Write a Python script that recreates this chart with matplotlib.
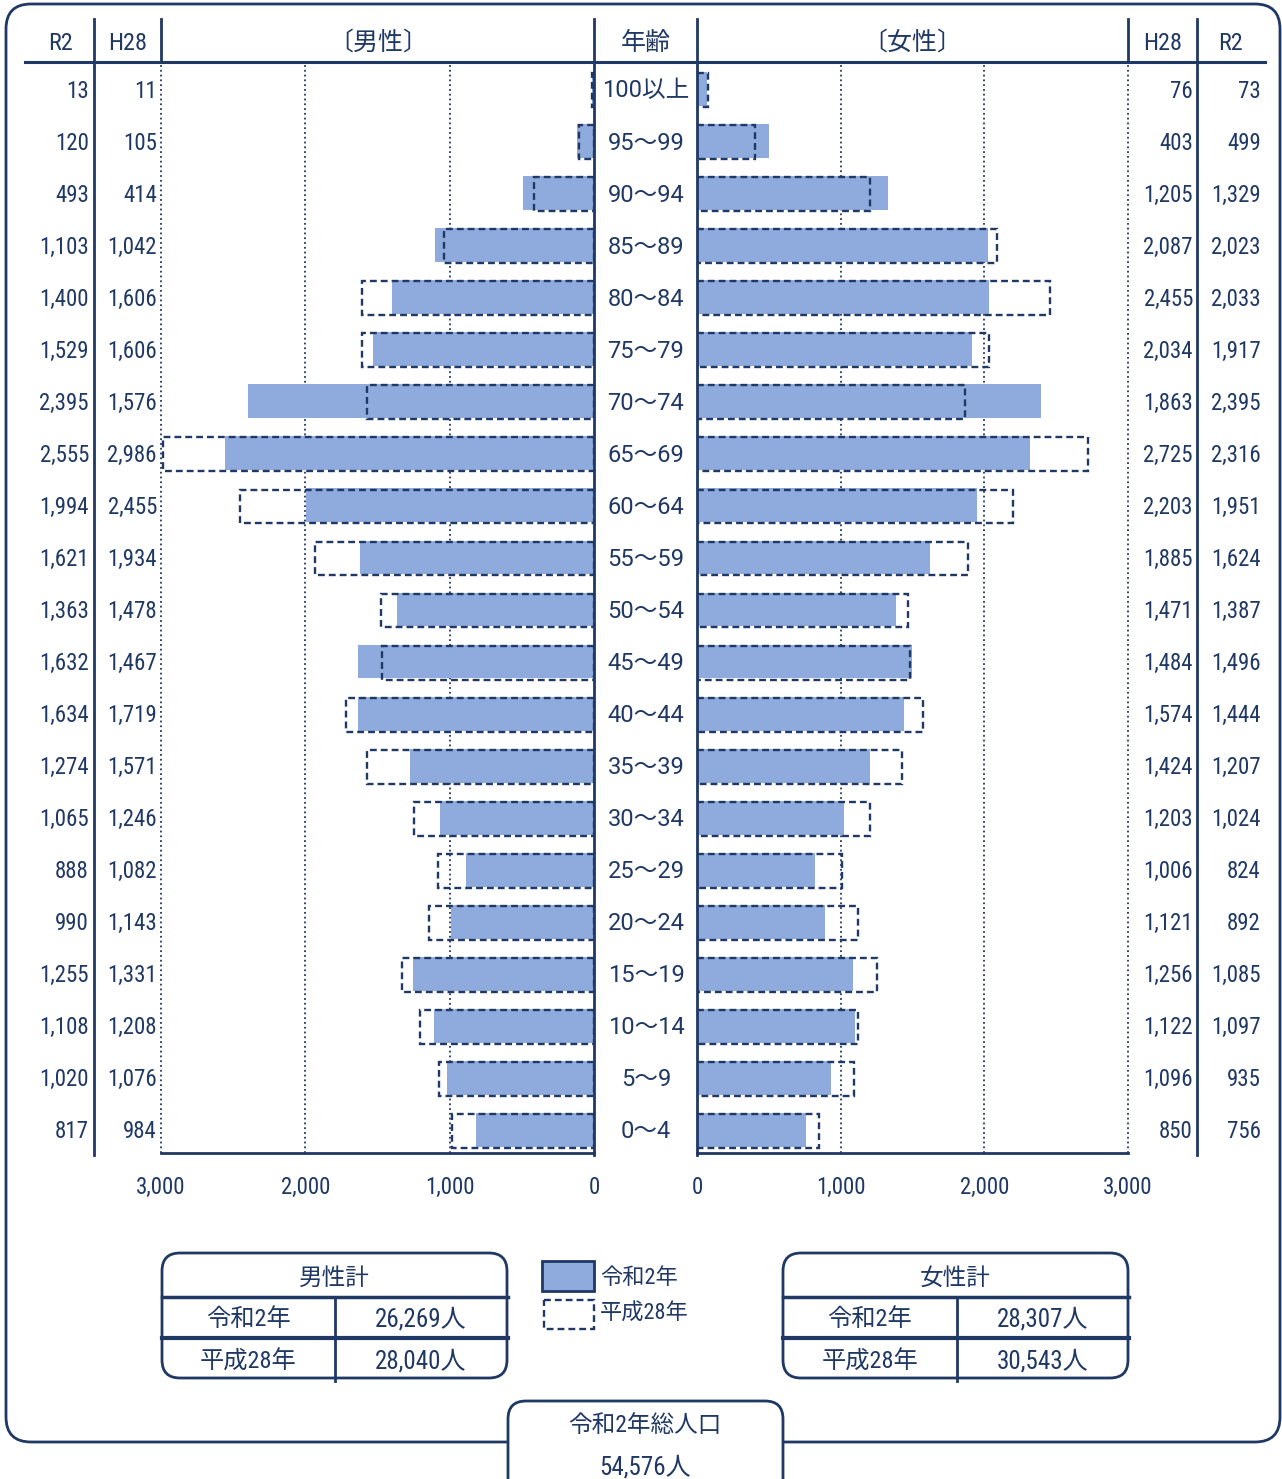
import matplotlib
matplotlib.use("Agg")
import numpy as np
import matplotlib.pyplot as plt
from matplotlib import transforms
from matplotlib.patches import FancyBboxPatch, Rectangle
from matplotlib.lines import Line2D

# ---- data -------------------------------------------------------------
ages = ["100以上", "95～99", "90～94", "85～89", "80～84", "75～79", "70～74",
        "65～69", "60～64", "55～59", "50～54", "45～49", "40～44", "35～39",
        "30～34", "25～29", "20～24", "15～19", "10～14", "5～9", "0～4"]
male_r2 = [13, 120, 493, 1103, 1400, 1529, 2395, 2555, 1994, 1621, 1363,
           1632, 1634, 1274, 1065, 888, 990, 1255, 1108, 1020, 817]
male_h28 = [11, 105, 414, 1042, 1606, 1606, 1576, 2986, 2455, 1934, 1478,
            1467, 1719, 1571, 1246, 1082, 1143, 1331, 1208, 1076, 984]
female_h28 = [76, 403, 1205, 2087, 2455, 2034, 1863, 2725, 2203, 1885, 1471,
              1484, 1574, 1424, 1203, 1006, 1121, 1256, 1122, 1096, 850]
female_r2 = [73, 499, 1329, 2023, 2033, 1917, 2395, 2316, 1951, 1624, 1387,
             1496, 1444, 1207, 1024, 824, 892, 1085, 1097, 935, 756]
x_ticks = [0, 1000, 2000, 3000]

male_totals = [("令和2年", "26,269人"), ("平成28年", "28,040人")]
female_totals = [("令和2年", "28,307人"), ("平成28年", "30,543人")]
grand_total = ("令和2年総人口", "54,576人")
legend_labels = ["令和2年", "平成28年"]

# ---- style ------------------------------------------------------------
W, H = 1282, 1479
NAVY = "#1f3864"
BLUE = "#8faadc"
NUM = ["Roboto Condensed", "Noto Sans CJK JP", "DejaVu Sans"]
AGE = ["Roboto", "Noto Sans CJK JP", "DejaVu Sans"]
JP = ["Noto Sans CJK JP", "DejaVu Sans"]
DASH = (0, (2.9, 1.7))

fig = plt.figure(figsize=(W / 100, H / 100), dpi=100)
fig.patch.set_facecolor("white")
# pixel coordinates with origin at top-left
PX = transforms.Affine2D().scale(1 / W, -1 / H).translate(0, 1) + fig.transFigure
# same, nudged 2 px downward so glyphs sit optically centred
PXT = transforms.Affine2D().translate(0, 2) + PX


def box(x0, x1, y0, y1):
    return [x0 / W, 1 - y1 / H, (x1 - x0) / W, (y1 - y0) / H]


def hline(y, x0, x1, lw=2, **kw):
    fig.add_artist(Line2D([x0, x1], [y, y], transform=PX, color=NAVY, lw=lw, **kw))


def vline(x, y0, y1, lw=2, **kw):
    fig.add_artist(Line2D([x, x], [y0, y1], transform=PX, color=NAVY, lw=lw, **kw))


def label(x, y, s, size, family, ha="center", transform=PXT, **kw):
    fig.text(x, y, s, transform=transform, ha=ha, va="center", fontsize=size,
             color=NAVY, family=family, **kw)


rows = np.arange(len(ages))
row0, step = 89.0, 52.05
y_top = (62 - row0) / step
y_bot = (1153 - row0) / step

ax_m = fig.add_axes(box(161, 594, 62, 1153))
ax_f = fig.add_axes(box(697, 1128, 62, 1153))

for ax, r2, h28, xlim in ((ax_m, male_r2, male_h28, (3000, 0)),
                          (ax_f, female_r2, female_h28, (0, 3000))):
    ax.set_xlim(*xlim)
    ax.set_ylim(y_bot, y_top)
    ax.barh(rows, r2, height=0.65, color=BLUE, zorder=2)
    ax.barh(rows + 0.02, h28, height=0.65, fill=False, edgecolor=NAVY,
            linestyle=DASH, linewidth=1.7, zorder=3)
    for v in (1000, 2000, 3000):
        ax.axvline(v, color=NAVY, lw=1.3, ls=":", zorder=1, clip_on=False)
    for s in ("top", "left", "right"):
        ax.spines[s].set_visible(False)
    ax.spines["bottom"].set_color(NAVY)
    ax.spines["bottom"].set_linewidth(2)
    ax.set_yticks([])
    ax.set_xticks(x_ticks)
    ax.set_xticklabels([f"{v:,}" for v in x_ticks])
    ax.tick_params(axis="x", length=0, pad=16.5, labelsize=16.5, labelcolor=NAVY)
    for lab in ax.get_xticklabels():
        lab.set_fontfamily(NUM)

# ---- frame and column rules --------------------------------------------
fig.add_artist(FancyBboxPatch((6, 4), 1274, 1438,
                              boxstyle="round,pad=0,rounding_size=25",
                              transform=PX, fill=False, ec=NAVY, lw=2))
hline(62, 25, 1265, lw=2.2)
for x in (94, 1197, 594, 697):
    vline(x, 19, 1155)
for x in (161, 1128):
    vline(x, 19, 62)

# ---- header -------------------------------------------------------------
for x, s in ((60, "R2"), (128, "H28"), (1163, "H28"), (1230, "R2")):
    label(x, 42, s, 17.5, NUM)
for x, s in ((378, "〔男性〕"), (646, "年齢"), (912, "〔女性〕")):
    label(x, 41, s, 18, JP)

# ---- row labels ---------------------------------------------------------
ty = transforms.blended_transform_factory(PX, ax_m.transData)
tyt = transforms.Affine2D().translate(0, 2 / step) + ty
for i in rows:
    label(646, i, ages[i], 17, AGE, transform=tyt)
    for x, vals in ((89, male_r2), (157, male_h28), (1193, female_h28),
                    (1261, female_r2)):
        label(x, i, f"{vals[i]:,}", 16.5, NUM, ha="right", transform=tyt)


# ---- totals tables ------------------------------------------------------
def totals_table(x0, x1, xdiv, title, entries):
    fig.add_artist(FancyBboxPatch((x0, 1253), x1 - x0, 125,
                                  boxstyle="round,pad=0,rounding_size=18",
                                  transform=PX, fill=False, ec=NAVY, lw=2))
    hline(1297, x0, x1 + 1, lw=2.5)
    hline(1338, x0, x1 + 1, lw=3)
    vline(xdiv, 1297, 1381, lw=2)
    label((x0 + x1) / 2, 1276, title, 17, JP)
    for (lab, val), y in zip(entries, (1318, 1360)):
        label((x0 + xdiv) / 2, y, lab, 17.5, NUM)
        label((xdiv + x1) / 2, y, val, 18, NUM)


totals_table(162, 507, 335, "男性計", male_totals)
totals_table(783, 1128, 957, "女性計", female_totals)

# ---- legend -------------------------------------------------------------
fig.add_artist(Rectangle((542, 1261), 52, 30, transform=PX, fc=BLUE,
                         ec=NAVY, lw=2))
fig.add_artist(Rectangle((544, 1300), 50, 29, transform=PX, fill=False,
                         ec=NAVY, lw=1.7, ls=DASH))
label(600, 1276, legend_labels[0], 16, NUM, ha="left")
label(600, 1312, legend_labels[1], 16, NUM, ha="left")

# ---- grand total --------------------------------------------------------
fig.add_artist(FancyBboxPatch((508, 1401), 275, 150,
                              boxstyle="round,pad=0,rounding_size=18",
                              transform=PX, fc="white", ec=NAVY, lw=2,
                              zorder=5))
label(645, 1424, grand_total[0], 17, NUM, zorder=6)
label(645, 1466, grand_total[1], 18, NUM, zorder=6)

fig.savefig("out.png", dpi=100)
